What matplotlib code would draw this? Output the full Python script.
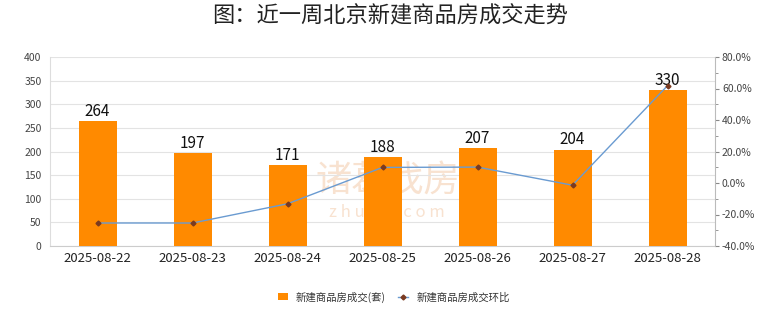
import matplotlib
matplotlib.use("Agg")
import matplotlib.pyplot as plt
from matplotlib.ticker import MultipleLocator, FuncFormatter

plt.rcParams['font.family'] = ['Noto Sans CJK SC', 'DejaVu Sans']

dates = ["2025-08-22", "2025-08-23", "2025-08-24", "2025-08-25", "2025-08-26", "2025-08-27", "2025-08-28"]
deals = [264, 197, 171, 188, 207, 204, 330]
mom = [-25.4, -25.4, -13.2, 9.9, 10.1, -1.4, 61.8]
title = "图：近一周北京新建商品房成交走势"
bar_label = "新建商品房成交(套)"
line_label = "新建商品房成交环比"

fig = plt.figure(figsize=(7.8, 3.28), dpi=100)
ax = fig.add_axes([50/780, 1-246/328, 665/780, 189/328])
ax2 = ax.twinx()

x = list(range(len(dates)))
bars = ax.bar(x, deals, width=0.4, color='#FF8A00', zorder=3, label=bar_label)
for xi, v in zip(x, deals):
    ax.text(xi, v + 3, str(v), ha='center', va='bottom', fontsize=11, color='#111111', zorder=5)

ax.set_xlim(-0.5, len(dates) - 0.5)
ax.set_ylim(0, 400)
ax.yaxis.set_major_locator(MultipleLocator(50))
ax.set_xticks(x)
ax.set_xticklabels(dates, fontsize=9.5, color='#222222')
ax.tick_params(axis='x', length=0, pad=4)
ax.tick_params(axis='y', length=0, labelsize=7.5, labelcolor='#444444', pad=6)
ax.grid(axis='y', color='#e3e3e3', linewidth=0.8, zorder=0)
for s in ['top', 'right']:
    ax.spines[s].set_visible(False)
ax.spines['left'].set_color('#dddddd')
ax.spines['bottom'].set_color('#cccccc')

# watermark (behind the bars)
ax.text(3.05, 138, "诸葛找房", ha='center', va='center', fontsize=26, color='#f8e2d0', zorder=1)
ax.text(3.05, 70, "z h u g e . c o m", ha='center', va='center', fontsize=12, color='#f8e2d0', zorder=1)

line, = ax2.plot(x, mom, color='#6a9bd1', linewidth=1.0, marker='D', markersize=2.5,
                 markerfacecolor='#7a3a20', markeredgecolor='#7a3a20', zorder=4, label=line_label)
ax2.set_ylim(-40, 80)
ax2.yaxis.set_major_locator(MultipleLocator(20))
ax2.yaxis.set_minor_locator(MultipleLocator(10))
ax2.yaxis.set_major_formatter(FuncFormatter(lambda v, p: f"{v:.1f}%"))
ax2.tick_params(axis='y', which='major', length=3, color='#888888', labelsize=7.5, labelcolor='#444444', pad=2)
ax2.tick_params(axis='y', which='minor', length=2, color='#888888')
for s in ['top', 'left', 'bottom']:
    ax2.spines[s].set_visible(False)
ax2.spines['right'].set_color('#bbbbbb')

fig.text(0.5, 1-16/328, title, ha='center', va='center', fontsize=16, color='#222222')

leg = fig.legend([bars, line], [bar_label, line_label], loc='center', bbox_to_anchor=(0.505, 1-297/328),
                 ncol=2, frameon=False, fontsize=7.5, handlelength=0.9, handleheight=0.7,
                 columnspacing=1.2, handletextpad=0.8)
for t in leg.get_texts():
    t.set_color('#333333')

fig.savefig("out.png", dpi=100)
